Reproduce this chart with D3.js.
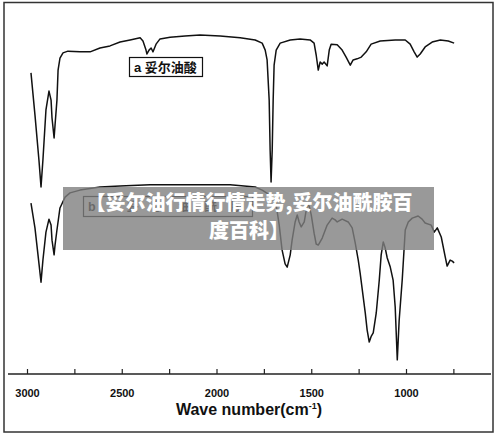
<!DOCTYPE html>
<html>
<head>
<meta charset="utf-8">
<script src="https://cdn.jsdelivr.net/npm/d3@7"></script>
<style>
  body { margin: 0; background: #fff; }
  svg { display: block; }
</style>
</head>
<body>
<svg width="500" height="437"></svg>
<script>
// IR spectra, wavenumber (cm-1) vs relative transmittance (stacked, arbitrary offset)
const waveA = [2979, 2958, 2937, 2926, 2916, 2900, 2884, 2873, 2868, 2857, 2852, 2842, 2836, 2826, 2810, 2784,
  2720, 2667, 2615, 2562, 2509, 2456, 2403, 2388, 2372, 2367, 2356, 2345, 2335, 2319, 2298, 2245, 2166, 2087,
  1981, 1875, 1796, 1759, 1743, 1733, 1722, 1717, 1712, 1706, 1701, 1696, 1685, 1664, 1611, 1559, 1506, 1485,
  1474, 1463, 1453, 1442, 1432, 1416, 1405, 1395, 1363, 1337, 1316, 1294, 1279, 1258, 1236, 1210, 1184, 1136,
  1057, 1004, 978, 957, 941, 925, 899, 862, 819, 777, 746];
const transA = [84.9, 72.9, 60, 52.3, 60, 74.3, 79.7, 77.1, 72, 66.3, 70, 77.1, 85.7, 89.1, 90.6, 91.1,
  90.9, 90.9, 92, 92.6, 93.7, 94.3, 94.9, 94, 91.4, 90.3, 91.4, 92, 90.9, 93.1, 94.6, 95.1, 95.4, 95.7,
  95.4, 94.9, 94.3, 93.4, 91.4, 88.6, 77.1, 62.9, 53.7, 62.9, 77.1, 87.1, 91.4, 93.4, 94.3, 94.6, 94.3, 93.4,
  90, 85.7, 88, 87.4, 88, 86.9, 91.4, 93.1, 92.9, 91.4, 89.4, 87.1, 88.6, 88.9, 89.4, 90.9, 93.1, 94,
  94.3, 94.3, 93.1, 90.9, 89.4, 90.3, 92.3, 93.7, 94.3, 94, 93.4];

const waveB = [2979, 2958, 2942, 2926, 2916, 2900, 2884, 2873, 2868, 2857, 2852, 2842, 2826, 2799, 2773, 2720,
  2615, 2509, 2351, 2087, 1928, 1796, 1759, 1728, 1701, 1685, 1669, 1654, 1638, 1627, 1611, 1601, 1585, 1574,
  1564, 1553, 1537, 1522, 1511, 1500, 1485, 1474, 1463, 1442, 1416, 1390, 1374, 1363, 1337, 1305, 1284, 1268,
  1252, 1242, 1215, 1205, 1194, 1183, 1173, 1157, 1141, 1131, 1120, 1110, 1099, 1083, 1068, 1057, 1046, 1036,
  1020, 1004, 988, 967, 936, 915, 899, 867, 851, 835, 814, 793, 783, 767, 756, 746];
const transB = [47.7, 40.6, 32.9, 25.1, 31.4, 39.4, 43.1, 41.4, 37.1, 32.9, 35.7, 40, 46.3, 49.4, 50.6, 51.4,
  52.3, 52.6, 52.9, 52.9, 52.9, 52.3, 51.4, 50.3, 49.4, 47.1, 41.4, 34.3, 30.3, 29.4, 32.9, 37.1, 42.3, 44.3,
  42.3, 40.9, 42.3, 47.1, 46.9, 44.3, 39.1, 36, 35.7, 37.7, 41.4, 43.4, 42.9, 42.3, 43.1, 42.3, 40.6, 36.3,
  31.4, 27.7, 16.3, 11.4, 8, 9.7, 10.6, 16.3, 25.7, 32.9, 36.6, 34.9, 32, 29.4, 25.7, 18, 2.9, 14.3,
  25.7, 40, 42.3, 43.4, 44, 43.1, 42, 41.4, 39.4, 40.6, 38, 32.3, 29.7, 31.4, 31.1, 30.6];

const majorTicks = [3000, 2500, 2000, 1500, 1000];
const minorTicks = [2750, 2250, 1750, 1250, 750];
const labelA = 'a 妥尔油酸';
const labelB = 'b 妥尔油酰胺';
const bannerLines = ['【妥尔油行情行情走势,妥尔油酰胺百', '度百科】'];

const svg = d3.select('svg');
const cjk = '"Liberation Sans", Arial, "Noto Sans CJK SC", sans-serif';

const xScale = d3.scaleLinear().domain([3000, 1000]).range([27, 406]);
const yScale = d3.scaleLinear().domain([0, 100]).range([370, 20]);

// frame
svg.append('rect')
  .attr('x', 4).attr('y', 2.5)
  .attr('width', 489).attr('height', 429.5)
  .attr('fill', 'none')
  .attr('stroke', '#333')
  .attr('stroke-width', 1.5);

// x axis
const axisY = 374;
svg.append('line')
  .attr('x1', 8).attr('x2', 491)
  .attr('y1', axisY).attr('y2', axisY)
  .attr('stroke', '#222').attr('stroke-width', 1.5);

const xAxis = d3.axisBottom(xScale)
  .tickValues(majorTicks)
  .tickFormat(d3.format('d'))
  .tickSizeInner(-5)
  .tickSizeOuter(0)
  .tickPadding(15);

const xAxisG = svg.append('g')
  .attr('transform', `translate(0,${axisY})`)
  .call(xAxis);
xAxisG.select('.domain').remove();
xAxisG.selectAll('line').attr('stroke', '#222').attr('stroke-width', 1.2);
xAxisG.selectAll('text')
  .attr('fill', '#111')
  .style('font-family', cjk)
  .style('font-size', '11px')
  .style('font-weight', 'bold');

const minorAxis = d3.axisBottom(xScale)
  .tickValues(minorTicks)
  .tickFormat('')
  .tickSizeInner(-5)
  .tickSizeOuter(0);
const minorG = svg.append('g')
  .attr('transform', `translate(0,${axisY})`)
  .call(minorAxis);
minorG.select('.domain').remove();
minorG.selectAll('line').attr('stroke', '#222').attr('stroke-width', 1.2);

// axis title
const title = svg.append('text')
  .attr('x', 249).attr('y', 415)
  .attr('text-anchor', 'middle')
  .attr('fill', '#111')
  .style('font-family', cjk)
  .style('font-size', '16px')
  .style('font-weight', 'bold');
title.append('tspan').text('Wave number(cm');
title.append('tspan').attr('dy', -6).style('font-size', '9px').text('-1');
title.append('tspan').attr('dy', 6).text(')');

// spectra
const line = d3.line()
  .x(d => xScale(d[0]))
  .y(d => yScale(d[1]));

[[waveA, transA], [waveB, transB]].forEach(([w, t]) => {
  svg.append('path')
    .datum(w.map((v, i) => [v, t[i]]))
    .attr('d', line)
    .attr('fill', 'none')
    .attr('stroke', '#111')
    .attr('stroke-width', 1.5)
    .attr('stroke-linejoin', 'round');
});

// labels
svg.append('rect')
  .attr('x', 129.5).attr('y', 57.5)
  .attr('width', 73).attr('height', 19)
  .attr('fill', '#fff').attr('stroke', '#111').attr('stroke-width', 1.2);
svg.append('text')
  .attr('x', 134).attr('y', 72)
  .attr('fill', '#111')
  .style('font-family', cjk)
  .style('font-size', '13px')
  .style('font-weight', 'bold')
  .text(labelA);

// label b sits under the banner, as in the source picture
svg.append('rect')
  .attr('x', 83.5).attr('y', 196.5)
  .attr('width', 169).attr('height', 20)
  .attr('fill', '#fff').attr('stroke', '#111').attr('stroke-width', 1.2);
svg.append('text')
  .attr('x', 88).attr('y', 211)
  .attr('textLength', 155)
  .attr('fill', '#111')
  .style('font-family', cjk)
  .style('font-size', '12.5px')
  .style('font-weight', 'bold')
  .text(labelB);

// banner overlay
svg.append('rect')
  .attr('x', 63).attr('y', 187)
  .attr('width', 371).attr('height', 63)
  .attr('fill', '#808080')
  .attr('opacity', 0.8);
bannerLines.forEach((s, i) => {
  svg.append('text')
    .attr('x', 249).attr('y', 210 + i * 28)
    .attr('text-anchor', 'middle')
    .attr('fill', '#fff')
    .style('font-family', '"Noto Sans CJK SC", sans-serif')
    .style('font-size', '20px')
    .style('font-weight', 900)
    .text(s);
});
</script>
</body>
</html>
